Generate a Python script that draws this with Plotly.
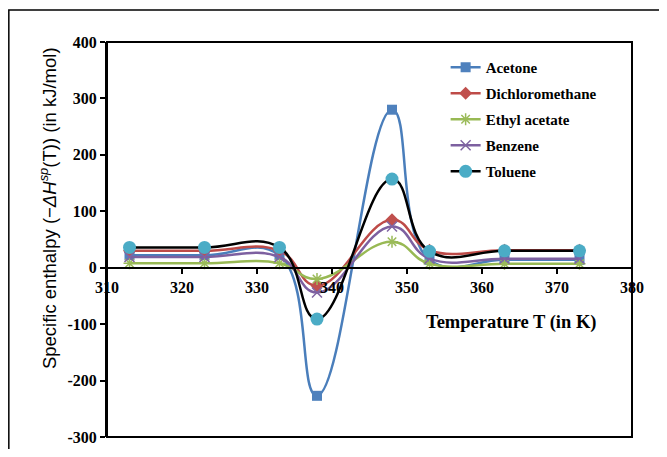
import plotly.graph_objects as go

temps = [313, 323, 333, 338, 348, 353, 363, 373]
series_names = ["Acetone", "Dichloromethane", "Ethyl acetate", "Benzene", "Toluene"]
acetone = [22, 22, 22, -227, 280, 14, 14, 14]
dichloromethane = [30, 30, 30, -32, 85, 31, 31, 31]
ethyl_acetate = [8, 8, 8, -20, 46, 7, 7, 7]
benzene = [19, 19, 19, -44, 73, 16, 16, 16]
toluene = [36, 36, 36, -91, 157, 29, 30, 30]

x_ticks = [310, 320, 330, 340, 350, 360, 370, 380]
y_ticks = [-300, -200, -100, 0, 100, 200, 300, 400]

values = [acetone, dichloromethane, ethyl_acetate, benzene, toluene]
line_colors = ["#4A7EBB", "#BE4B48", "#98B954", "#7D60A0", "#000000"]
marker_styles = [
    dict(symbol="square", size=10, color="#4F81BD", line=dict(width=0)),
    dict(symbol="diamond", size=10, color="#C0504D", line=dict(width=0)),
    dict(symbol="asterisk-open", size=10, color="#9BBB59", line=dict(width=1.5, color="#9BBB59")),
    dict(symbol="x-thin-open", size=10, color="#8064A2", line=dict(width=1.5, color="#8064A2")),
    dict(symbol="circle", size=13, color="#4BACC6", line=dict(width=0)),
]

fig = go.Figure()
for name, vals, lc, mk in zip(series_names, values, line_colors, marker_styles):
    fig.add_trace(go.Scatter(
        x=temps, y=vals, name=name, legendgroup=name, mode="lines+markers",
        line=dict(color=lc, width=2.5, shape="spline", smoothing=1.25),
        marker=mk,
    ))

serif_bold = dict(family="Liberation Serif", size=16, color="black", weight="bold")

fig.update_layout(
    width=651, height=441,
    margin=dict(l=99, r=27, t=34, b=12, autoexpand=False),
    paper_bgcolor="white", plot_bgcolor="white",
    showlegend=True,
    legend=dict(
        x=0.645, y=0.977, xanchor="left", yanchor="top",
        bgcolor="rgba(0,0,0,0)",
        font=dict(family="Liberation Serif", size=15, color="black", weight="bold"),
        tracegroupgap=3.5,
    ),
    xaxis=dict(
        range=[310, 380], tickvals=x_ticks, ticktext=[str(t) for t in x_ticks],
        anchor="free", position=3/7, automargin=False,
        showline=True, linecolor="black", linewidth=2,
        ticks="outside", ticklen=5, tickwidth=2, tickcolor="black",
        showgrid=False, zeroline=False, tickfont=serif_bold,
    ),
    yaxis=dict(
        range=[-300, 400], tickvals=y_ticks, ticktext=[str(t) for t in y_ticks],
        domain=[0, 1], automargin=False,
        showline=True, linecolor="black", linewidth=2,
        ticks="outside", ticklen=5, tickwidth=2, tickcolor="black",
        showgrid=False, zeroline=False, tickfont=serif_bold,
    ),
    shapes=[
        dict(type="rect", xref="x domain", yref="y domain", x0=0, x1=1, y0=0, y1=1,
             line=dict(color="black", width=2), layer="above"),
        dict(type="rect", xref="paper", yref="paper", x0=-0.187, x1=1.2, y0=-0.2, y1=1.081,
             line=dict(color="black", width=1.5), layer="below"),
    ],
    annotations=[
        dict(text="Temperature T (in K)", xref="paper", yref="paper", x=0.77, y=0.291,
             xanchor="center", yanchor="middle",
             showarrow=False, font=dict(family="Liberation Serif", size=18.5, color="black", weight="bold")),
        dict(text="Specific enthalpy (−<i>ΔH</i><sup><i>sp</i></sup>(T)) (in kJ/mol)",
             xref="paper", yref="paper", x=-0.112, y=0.58, textangle=-90,
             xanchor="center", yanchor="middle",
             showarrow=False, font=dict(family="Liberation Sans", size=18.5, color="black")),
    ],
)

fig.write_html("out.html")
